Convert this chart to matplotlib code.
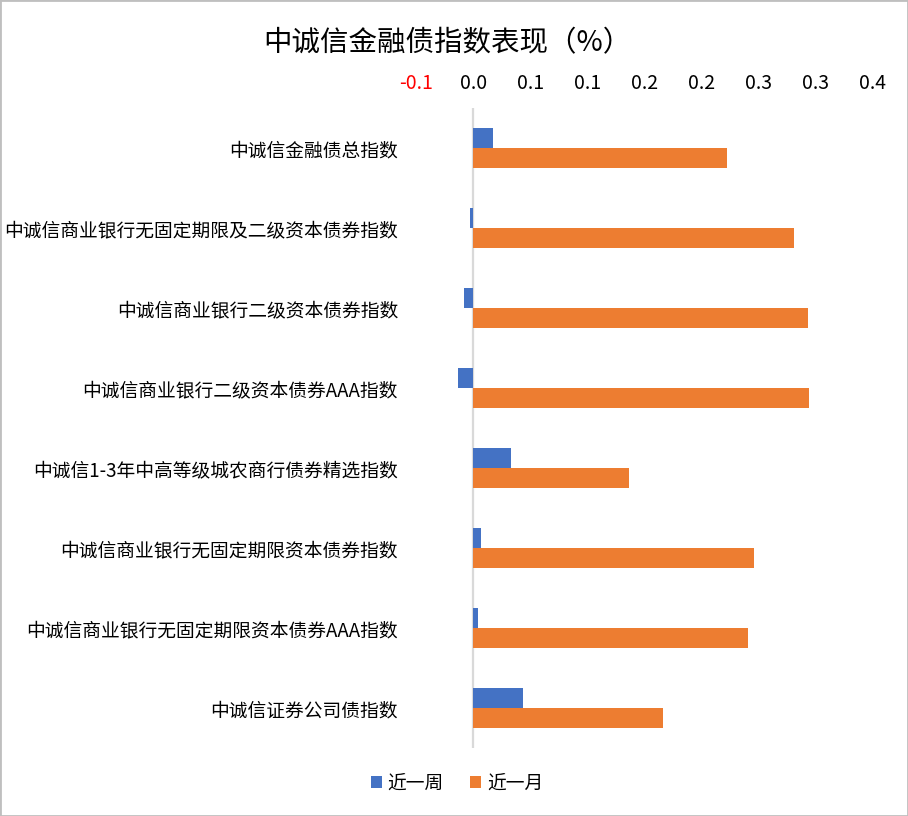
import matplotlib.pyplot as plt
from matplotlib.patches import Rectangle

plt.rcParams['font.family'] = ['Noto Sans CJK SC', 'DejaVu Sans']

categories = [
    '中诚信金融债总指数',
    '中诚信商业银行无固定期限及二级资本债券指数',
    '中诚信商业银行二级资本债券指数',
    '中诚信商业银行二级资本债券AAA指数',
    '中诚信1-3年中高等级城农商行债券精选指数',
    '中诚信商业银行无固定期限资本债券指数',
    '中诚信商业银行无固定期限资本债券AAA指数',
    '中诚信证券公司债指数',
]
week = [0.017, -0.003, -0.008, -0.013, 0.033, 0.007, 0.004, 0.044]
month = [0.222, 0.281, 0.293, 0.294, 0.136, 0.246, 0.241, 0.166]

xticks = [-0.05, 0.0, 0.05, 0.1, 0.15, 0.2, 0.25, 0.3, 0.35]
xtick_labels = ['-0.1', '0.0', '0.1', '0.1', '0.2', '0.2', '0.3', '0.3', '0.4']

blue = '#4472C4'
orange = '#ED7D31'

fig = plt.figure(figsize=(9.08, 8.16), dpi=100)
ax = fig.add_axes([416 / 908, 68 / 816, 457 / 908, 640 / 816])

pos = list(range(len(categories)))
h = 0.25
ax.barh([p - h / 2 for p in pos], week, height=h, color=blue, label='近一周', zorder=3)
ax.barh([p + h / 2 for p in pos], month, height=h, color=orange, label='近一月', zorder=3)

ax.set_ylim(len(categories) - 0.5, -0.5)
ax.set_xlim(-0.05, 0.35)
ax.axvline(0, color='#D9D9D9', lw=1.6, zorder=2)

ax.set_yticks(pos)
ax.set_yticklabels(categories, fontsize=13.5)
ax.set_xticks(xticks)
ax.set_xticklabels(xtick_labels, fontsize=14)
ax.xaxis.tick_top()
ax.tick_params(axis='both', length=0)
ax.tick_params(axis='y', pad=13)
ax.tick_params(axis='x', pad=10)
ax.get_xticklabels()[0].set_color('#FF0000')
for s in ax.spines.values():
    s.set_visible(False)

fig.text(447 / 908, 1 - 43 / 816, '中诚信金融债指数表现（%）', fontsize=20.5,
         ha='center', va='center')

fig.legend(loc='center', bbox_to_anchor=(457 / 908, 1 - 783 / 816), ncol=2,
           frameon=False, fontsize=13.5, handlelength=0.6, handleheight=0.6,
           handletextpad=0.3, columnspacing=1.4)

fig.patches.append(Rectangle((0, 0), 1, 1, transform=fig.transFigure, fill=False,
                             ec='#BFBFBF', lw=2))

fig.savefig('out.png', dpi=100)
